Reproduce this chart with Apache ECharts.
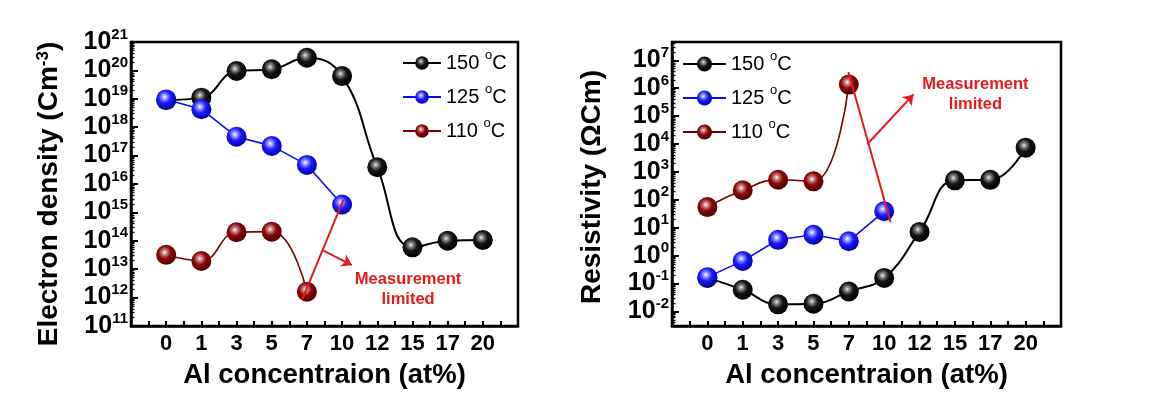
<!DOCTYPE html>
<html>
<head>
<meta charset="utf-8">
<script src="https://cdn.jsdelivr.net/npm/echarts@6/dist/echarts.min.js"></script>
<style>
html,body{margin:0;padding:0;background:#fff;}
#c{width:1170px;height:404px;}
</style>
</head>
<body>
<div id="c"></div>
<script>
// ---- data ----
const categories = ['0', '1', '3', '5', '7', '10', '12', '15', '17', '20'];
const seriesNames = ['150 °C', '125 °C', '110 °C'];
// Electron density (cm^-3)
const ed150 = [9.0e18, 1.1e19, 9.5e19, 1.1e20, 2.8e20, 6.3e19, 3.9e16, 5.9e13, 1.0e14, 1.07e14];
const ed125 = [9.5e18, 4.3e18, 4.6e17, 2.2e17, 4.7e16, 1.9e15];
const ed110 = [3.2e13, 1.95e13, 2.0e14, 2.1e14, 1.6e12];
// Resistivity (Ohm cm)
const rs150 = [0.16, 0.06, 0.018, 0.019, 0.052, 0.16, 7.1, 500, 520, 7400];
const rs125 = [0.17, 0.65, 3.7, 5.6, 3.3, 39];
const rs110 = [55, 220, 525, 460, 1.35e6];
// tick labels (powers of ten)
const edExponents = [11, 12, 13, 14, 15, 16, 17, 18, 19, 20, 21];
const rsExponents = [-2, -1, 0, 1, 2, 3, 4, 5, 6, 7];

// ---- styling ----
const FONT = '"Liberation Sans", Arial, sans-serif';
const RED = '#e31a1c';
function ball(stops) {
  return {type: 'radial', x: 0.42, y: 0.38, r: 0.62,
    colorStops: stops.map(s => ({offset: s[0], color: s[1]}))};
}
const styles = [
  {line: '#000000', width: 2, smooth: 0.45,
   ball: ball([[0, '#f0f0f0'], [0.18, '#8a8a8a'], [0.5, '#151515'], [1, '#000000']])},
  {line: '#0a0aff', width: 1.6, smooth: false,
   ball: ball([[0, '#ffffff'], [0.18, '#a0a0ff'], [0.5, '#1c1cff'], [1, '#0000a8']])},
  {line: '#7d0000', width: 1.6, smooth: 0.45,
   ball: ball([[0, '#ffffff'], [0.18, '#cf8c8c'], [0.5, '#8a0808'], [1, '#520000']])}
];
const toPairs = arr => arr.map((v, i) => [i, v]);
const pow10 = e => Math.pow(10, e);
const majorVals = exps => exps.map(pow10);
function minorVals(exps, lo, hi) {
  const out = [];
  for (let e = exps[0] - 1; e <= exps[exps.length - 1]; e++) {
    for (let m = 2; m <= 9; m++) {
      const v = m * pow10(e);
      if (v > lo && v < hi) out.push(v);
    }
  }
  return out;
}

function mkSeries(grid, arrs) {
  return arrs.map((arr, k) => ({
    name: seriesNames[k], type: 'line', xAxisIndex: grid, yAxisIndex: grid,
    data: toPairs(arr), smooth: styles[k].smooth,
    symbol: 'circle', symbolSize: 20, showSymbol: true,
    lineStyle: {color: styles[k].line, width: styles[k].width},
    itemStyle: {color: styles[k].ball},
    z: 2 + k, animation: false
  }));
}

const supRich = {
  b: {fontSize: 25, fontWeight: 'bold', fontFamily: FONT, color: '#000', lineHeight: 30},
  s: {fontSize: 15, fontWeight: 'bold', fontFamily: FONT, color: '#000', verticalAlign: 'top', lineHeight: 16}
};
function yAxisMain(grid, name, gap, minV, maxV, exps, pad) {
  const ticks = majorVals(exps);
  return {
    type: 'log', logBase: 10, gridIndex: grid, position: 'left', min: minV, max: maxV,
    name: name, nameLocation: 'middle', nameGap: gap,
    nameTextStyle: {fontSize: 28, fontWeight: 'bold', fontFamily: FONT, color: '#000', padding: pad,
      rich: {sup: {fontSize: 17, fontWeight: 'bold', fontFamily: FONT, color: '#000', verticalAlign: 'top', lineHeight: 17}}},
    axisLine: {show: true, onZero: false, lineStyle: {color: '#000', width: 2.5}},
    axisTick: {show: true, inside: true, length: 7, customValues: ticks, lineStyle: {color: '#000', width: 2}},
    minorTick: {show: false},
    splitLine: {show: false},
    axisLabel: {margin: 3, customValues: ticks, showMinLabel: true, showMaxLabel: true, hideOverlap: false,
      formatter: v => '{b|10}{s|' + Math.round(Math.log10(v)) + '}', rich: supRich}
  };
}
function yAxisMinor(grid, minV, maxV, exps) {
  return {
    type: 'log', logBase: 10, gridIndex: grid, position: 'left', min: minV, max: maxV,
    axisLine: {show: false, onZero: false},
    axisTick: {show: true, inside: true, length: 3.5, customValues: minorVals(exps, minV, maxV),
      lineStyle: {color: '#000', width: 1.3}},
    axisLabel: {show: false},
    splitLine: {show: false}
  };
}
function xAxisCommon(grid) {
  return {
    type: 'value', gridIndex: grid, min: -1, max: 10, interval: 1,
    name: 'Al concentraion (at%)', nameLocation: 'middle', nameGap: 35,
    nameTextStyle: {fontSize: 27.5, fontWeight: 'bold', fontFamily: FONT, color: '#000'},
    axisLine: {show: true, onZero: false, lineStyle: {color: '#000', width: 2.5}},
    axisTick: {show: true, inside: true, length: 5, lineStyle: {color: '#000', width: 2}},
    minorTick: {show: true, splitNumber: 2, length: 5, lineStyle: {color: '#000', width: 2}},
    splitLine: {show: false},
    axisLabel: {margin: 7, fontSize: 22, fontWeight: 'bold', fontFamily: FONT, color: '#000',
      formatter: v => (Number.isInteger(v) && v >= 0 && v < categories.length) ? categories[v] : ''}
  };
}
function legendFor(left, top, w, h) {
  return {
    data: seriesNames, left: left, top: top, orient: 'vertical',
    itemWidth: w, itemHeight: h, itemGap: 6, padding: 0,
    formatter: n => n.replace(' °C', ' {sup|o}C'),
    textStyle: {fontSize: 20, fontFamily: FONT, color: '#000', lineHeight: 28,
      rich: {sup: {fontSize: 13, fontFamily: FONT, color: '#000', verticalAlign: 'top', lineHeight: 13}}},
    selectedMode: false
  };
}

// annotation geometry in data coordinates (x index, y value)
const annLeft = {
  line: [[3.86, 8.3e11], [5.04, 2.8e15]],
  arrow: [[4.47, 4.5e13], [5.28, 1.4e13]],
  text: [6.875, 2.0e12]
};
const annRight = {
  line: [[3.99, 3.8e6], [5.18, 15.8]],
  arrow: [[4.52, 9.8e3], [5.83, 6.0e5]],
  text: [7.58, 6.0e5]
};
function annSeries(grid, a) {
  return {
    type: 'line', xAxisIndex: grid, yAxisIndex: grid, data: [], z: 10, silent: true,
    markLine: {
      silent: true, animation: false, label: {show: false},
      lineStyle: {color: RED, width: 2, type: 'solid'},
      data: [
        [{coord: a.line[0], symbol: 'none'}, {coord: a.line[1], symbol: 'none'}],
        [{coord: a.arrow[0], symbol: 'none'}, {coord: a.arrow[1], symbol: 'arrow', symbolSize: 10}]
      ]
    },
    markPoint: {
      silent: true, animation: false, symbol: 'circle', symbolSize: 1,
      itemStyle: {color: 'rgba(0,0,0,0)'},
      label: {show: true, position: 'inside', formatter: 'Measurement\nlimited', color: RED,
        fontSize: 16.5, fontWeight: 'bold', fontFamily: FONT, lineHeight: 20, align: 'center'},
      data: [{coord: a.text}]
    }
  };
}

const edMin = 1e11, edMax = 1.0001e21;
const rsMin = pow10(-2.52), rsMax = pow10(7.656);

const chart = echarts.init(document.getElementById('c'), null, {renderer: 'canvas'});
chart.setOption({
  animation: false,
  backgroundColor: '#fff',
  grid: [
    {left: 131, right: 652, top: 42, bottom: 78, show: true, borderColor: '#000', borderWidth: 2.5},
    {left: 672, right: 109, top: 42, bottom: 78, show: true, borderColor: '#000', borderWidth: 2.5}
  ],
  xAxis: [xAxisCommon(0), xAxisCommon(1)],
  yAxis: [
    yAxisMain(0, 'Electron density (Cm{sup|-3})', 68, edMin, edMax, edExponents, [0, 20, 0, 0]),
    yAxisMain(1, 'Resistivity (ΩCm)', 66, rsMin, rsMax, rsExponents, [0, 6, 0, 0]),
    yAxisMinor(0, edMin, edMax, edExponents),
    yAxisMinor(1, rsMin, rsMax, rsExponents)
  ],
  legend: [legendFor(402, 49, 38, 17), legendFor(682, 50, 43, 19)],
  series: [].concat(
    mkSeries(0, [ed150, ed125, ed110]),
    mkSeries(1, [rs150, rs125, rs110]),
    [annSeries(0, annLeft), annSeries(1, annRight)]
  )
});
</script>
</body>
</html>
